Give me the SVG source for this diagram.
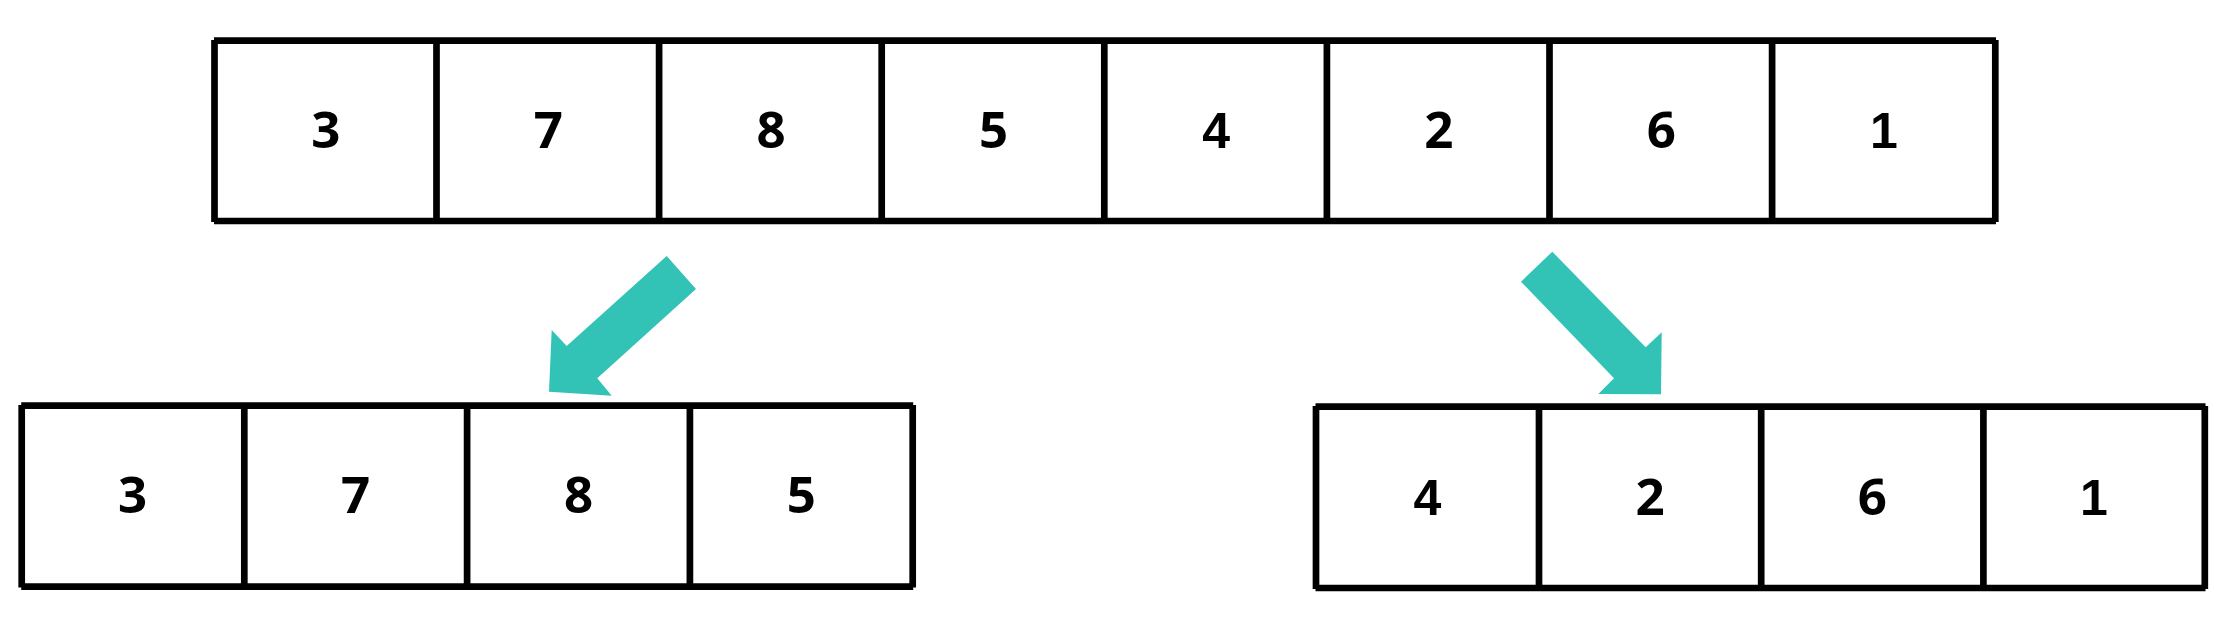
<svg xmlns="http://www.w3.org/2000/svg" width="2216" height="644" viewBox="0 0 2216 644">
<style>
.ln{stroke:#000;stroke-width:6.7;fill:none;stroke-linecap:butt}
.t{font-family:'Open Sans',sans-serif;font-weight:bold;font-size:51px;text-anchor:middle;fill:#000}
.a{font-family:'Liberation Sans',Arial,sans-serif;font-weight:bold;font-size:50px;text-anchor:middle;fill:#000}
.arr{fill:#33C3B6}
</style>
<rect width="2216" height="644" fill="#fff"/>
<g id="top-array">
<line class="ln" x1="214" y1="40.7" x2="1996" y2="40.7"/>
<line class="ln" x1="214" y1="221" x2="1996" y2="221"/>
<line class="ln" x1="214.5" y1="40" x2="214.5" y2="222"/>
<line class="ln" x1="436.5" y1="40" x2="436.5" y2="222"/>
<line class="ln" x1="659.1" y1="40" x2="659.1" y2="222"/>
<line class="ln" x1="881.7" y1="40" x2="881.7" y2="222"/>
<line class="ln" x1="1104.3" y1="40" x2="1104.3" y2="222"/>
<line class="ln" x1="1326.9" y1="40" x2="1326.9" y2="222"/>
<line class="ln" x1="1549.5" y1="40" x2="1549.5" y2="222"/>
<line class="ln" x1="1772.1" y1="40" x2="1772.1" y2="222"/>
<line class="ln" x1="1995.3" y1="40" x2="1995.3" y2="222"/>
<text class="t" x="325.8" y="148.3">3</text>
<text class="t" x="548.4" y="148.3">7</text>
<text class="t" x="771" y="148.3">8</text>
<text class="t" x="993.6" y="148.3">5</text>
<text class="a" x="1216.2" y="148.3">4</text>
<text class="t" x="1438.8" y="148.3">2</text>
<text class="t" x="1661.4" y="148.3">6</text>
<text class="a" x="1884" y="148.3">1</text>
</g>
<g id="left-array">
<line class="ln" x1="21.2" y1="405.7" x2="913.2" y2="405.7"/>
<line class="ln" x1="21.2" y1="586.7" x2="913.2" y2="586.7"/>
<line class="ln" x1="21.7" y1="405" x2="21.7" y2="587.5"/>
<line class="ln" x1="244.3" y1="405" x2="244.3" y2="587.5"/>
<line class="ln" x1="467.1" y1="405" x2="467.1" y2="587.5"/>
<line class="ln" x1="689.9" y1="405" x2="689.9" y2="587.5"/>
<line class="ln" x1="912.7" y1="405" x2="912.7" y2="587.5"/>
<text class="t" x="132.5" y="513.3">3</text>
<text class="t" x="355.5" y="513.3">7</text>
<text class="t" x="578.5" y="513.3">8</text>
<text class="t" x="801.3" y="513.3">5</text>
</g>
<g id="right-array">
<line class="ln" x1="1315.5" y1="406.7" x2="2205.5" y2="406.7"/>
<line class="ln" x1="1315.5" y1="588" x2="2205.5" y2="588"/>
<line class="ln" x1="1316" y1="406" x2="1316" y2="589"/>
<line class="ln" x1="1539" y1="406" x2="1539" y2="589"/>
<line class="ln" x1="1761.2" y1="406" x2="1761.2" y2="589"/>
<line class="ln" x1="1983.4" y1="406" x2="1983.4" y2="589"/>
<line class="ln" x1="2204.8" y1="406" x2="2204.8" y2="589"/>
<text class="a" x="1427.5" y="514.5">4</text>
<text class="t" x="1650" y="514.5">2</text>
<text class="t" x="1872.3" y="514.5">6</text>
<text class="a" x="2094" y="514.5">1</text>
</g>
<g id="connectors">
<polygon class="arr" points="666.7,256 696,289 597.3,378.3 611.7,395.7 549,391.7 551.7,330 566.7,346"/>
<polygon class="arr" points="1552.3,251.7 1521,281.7 1614,378.3 1598.3,394 1661,394.3 1661.7,332.3 1645.7,347.3"/>
</g>
</svg>
